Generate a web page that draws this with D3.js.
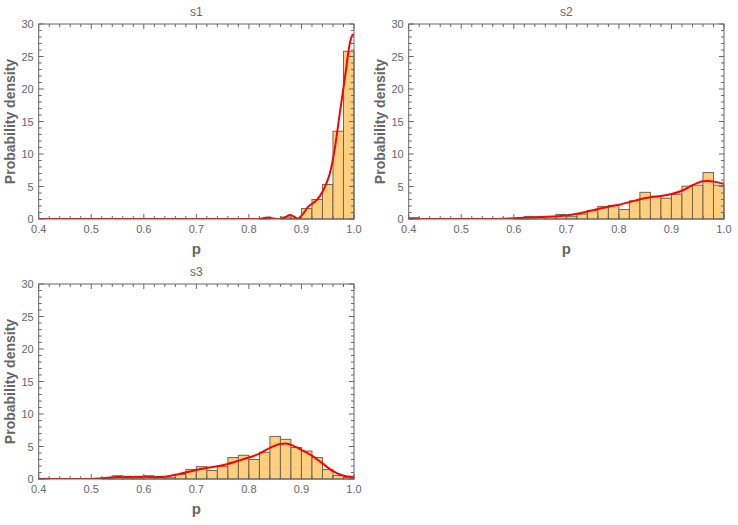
<!DOCTYPE html>
<html><head><meta charset="utf-8">
<script src="https://cdn.jsdelivr.net/npm/d3@7"></script>
<style>body{margin:0;background:#fff;} text{font-family:"Liberation Sans",Arial,sans-serif;}</style>
</head><body><svg id="c" width="738" height="525"></svg>
<script>
const binStarts = d3.range(30).map(i => +(0.4 + i * 0.02).toFixed(2));
const binWidth = 0.02;
const xTicks = [0.4, 0.5, 0.6, 0.7, 0.8, 0.9, 1.0];
const yTicks = [0, 5, 10, 15, 20, 25, 30];
const titles = ["s1", "s2", "s3"];

const s1Bars = [0,0,0,0,0,0,0,0,0,0, 0,0,0,0,0,0,0,0,0,0, 0,0.1,0,0.3,0.1,1.6,3.0,5.3,13.5,25.8];
const s2Bars = [0.2,0,0,0,0,0,0,0,0,0, 0.05,0.4,0.3,0.4,0.7,0.35,0.75,1.3,1.95,2.1, 1.45,2.8,4.1,3.4,3.2,3.8,5.05,5.2,7.15,5.2];
const s3Bars = [0.1,0,0,0,0,0,0.1,0.5,0.2,0.2, 0.5,0.2,0.2,0.7,1.45,1.9,1.3,1.9,3.3,3.65, 3.0,4.1,6.55,6.1,4.85,4.3,3.3,1.45,0.55,0.25];

const s1CurveP = [0.4,0.8,0.82,0.835,0.848,0.86,0.87,0.878,0.886,0.893,0.9,0.913,0.929,0.94,0.948,0.954,0.964,0.973,0.983,0.992,0.997,1.0];
const s1CurveY = [0,0,0,0.25,0.05,0,0.3,0.6,0.35,0.05,0.5,1.9,2.9,4.2,5.6,7.0,11.1,16.3,21.9,27.0,28.3,28.4];
const s2CurveP = [0.4,0.45,0.5,0.55,0.6,0.65,0.7,0.72,0.75,0.78,0.8,0.82,0.84,0.86,0.88,0.9,0.92,0.94,0.96,0.97,0.98,1.0];
const s2CurveY = [0.05,0,0,0,0.1,0.3,0.55,0.8,1.35,1.9,2.2,2.6,3.05,3.35,3.55,3.85,4.35,5.2,5.8,5.85,5.75,5.4];
const s3CurveP = [0.4,0.45,0.5,0.52,0.55,0.6,0.63,0.66,0.7,0.72,0.75,0.78,0.8,0.82,0.84,0.86,0.87,0.88,0.9,0.92,0.94,0.96,0.98,1.0];
const s3CurveY = [0,0,0,0.1,0.3,0.35,0.3,0.65,1.4,1.7,2.1,2.8,3.3,3.9,4.8,5.4,5.45,5.25,4.5,3.6,2.4,1.2,0.5,0.3];

const panels = [
  {title: titles[0], bars: s1Bars, cp: s1CurveP, cy: s1CurveY, left: 38.7, top: 24},
  {title: titles[1], bars: s2Bars, cp: s2CurveP, cy: s2CurveY, left: 408.7, top: 24},
  {title: titles[2], bars: s3Bars, cp: s3CurveP, cy: s3CurveY, left: 38.7, top: 284}
];
const W = 315.3, H = 195;
const svg = d3.select("#c");
const frameCol = "#666666", textCol = "#666666";

panels.forEach((pn, idx) => {
  const g = svg.append("g").attr("transform", `translate(${pn.left},${pn.top})`);
  const x = d3.scaleLinear().domain([0.4, 1.0]).range([0, W]);
  const y = d3.scaleLinear().domain([0, 30]).range([H, 0]);
  const cid = "clip" + idx;
  g.append("clipPath").attr("id", cid).append("rect").attr("x", 0).attr("y", -2).attr("width", W).attr("height", H + 2);

  // bars
  g.append("g").selectAll("rect").data(binStarts.map((b, i) => ({b, v: pn.bars[i]})).filter(d => d.v > 0))
    .join("rect")
    .attr("x", d => x(d.b)).attr("width", d => x(d.b + binWidth) - x(d.b))
    .attr("y", d => y(d.v)).attr("height", d => y(0) - y(d.v))
    .attr("fill", "#FDCF7F").attr("stroke", "#75654d").attr("stroke-width", 1);

  // curve
  const pts = pn.cp.map((p, i) => [p, pn.cy[i]]);
  g.append("path").datum(pts).attr("clip-path", `url(#${cid})`)
    .attr("d", d3.line().x(d => x(d[0])).y(d => y(d[1])).curve(d3.curveMonotoneX))
    .attr("fill", "none").attr("stroke", "#ff0000").attr("stroke-width", 2);

  // frame
  g.append("rect").attr("x", 0).attr("y", 0).attr("width", W).attr("height", H)
    .attr("fill", "none").attr("stroke", frameCol).attr("stroke-width", 1);

  // ticks (inward, all sides)
  const xMinor = d3.range(0, 31).map(i => 0.4 + i * 0.02);
  const yMinor = d3.range(0, 31);
  const tk = g.append("g").attr("stroke", frameCol).attr("stroke-width", 1);
  xMinor.forEach((v, i) => {
    const major = i % 5 === 0;
    const L = major ? 5 : 3;
    const xx = x(v);
    tk.append("line").attr("x1", xx).attr("x2", xx).attr("y1", H).attr("y2", H - L);
    tk.append("line").attr("x1", xx).attr("x2", xx).attr("y1", 0).attr("y2", L);
  });
  yMinor.forEach((v, i) => {
    const major = i % 5 === 0;
    const L = major ? 5 : 3;
    const yy = y(v);
    tk.append("line").attr("x1", 0).attr("x2", L).attr("y1", yy).attr("y2", yy);
    tk.append("line").attr("x1", W).attr("x2", W - L).attr("y1", yy).attr("y2", yy);
  });

  // tick labels
  g.append("g").selectAll("text").data(xTicks).join("text")
    .attr("x", d => x(d)).attr("y", H + 14).attr("text-anchor", "middle")
    .attr("font-size", 11).attr("fill", textCol).text(d => d.toFixed(1));
  g.append("g").selectAll("text").data(yTicks).join("text")
    .attr("x", -5).attr("y", d => y(d) + 4).attr("text-anchor", "end")
    .attr("font-size", 11).attr("fill", textCol).text(d => d);

  // labels
  g.append("text").attr("x", W / 2).attr("y", -8).attr("text-anchor", "middle")
    .attr("font-size", 12).attr("fill", textCol).text(pn.title);
  g.append("text").attr("x", W / 2).attr("y", H + 35).attr("text-anchor", "middle")
    .attr("font-size", 15).attr("font-weight", "bold").attr("fill", textCol).text("p");
  g.append("text").attr("transform", `translate(-24,${H / 2}) rotate(-90)`).attr("text-anchor", "middle")
    .attr("font-size", 14).attr("font-weight", "bold").attr("fill", textCol).text("Probability density");
});
</script></body></html>
